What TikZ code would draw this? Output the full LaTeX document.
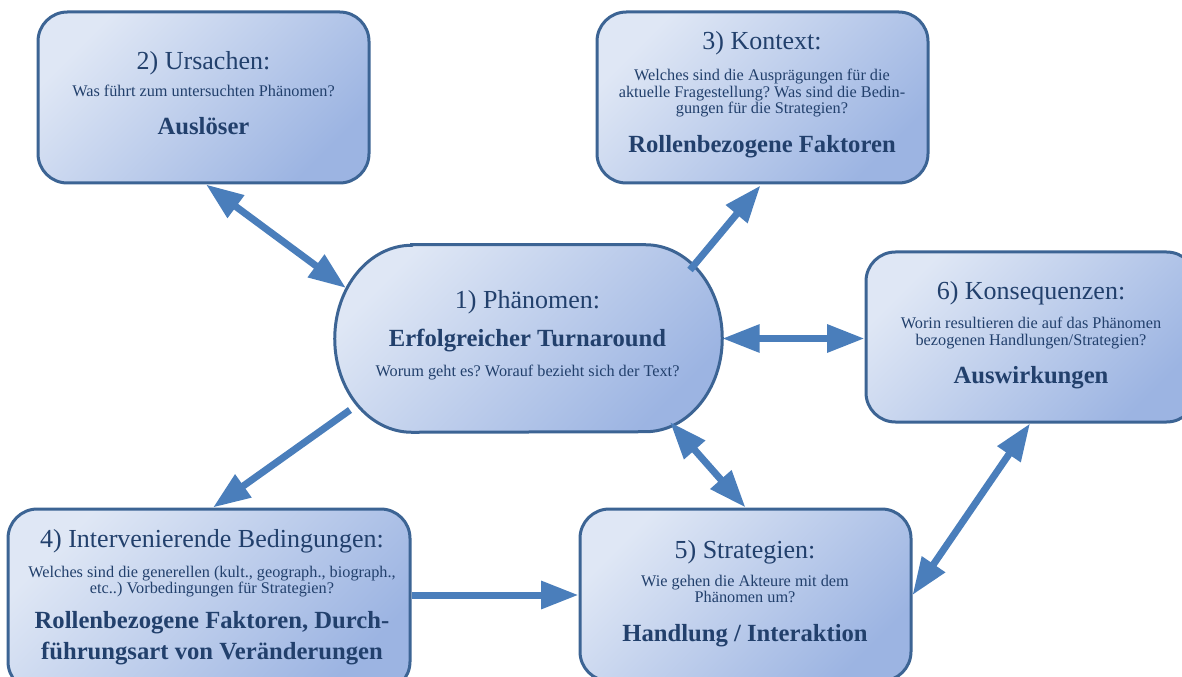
\documentclass[tikz,border=0pt]{standalone}
\usepackage{fontspec}
\setmainfont{Liberation Serif}
\usetikzlibrary{arrows.meta,calc}
\frenchspacing
\definecolor{edgeblue}{HTML}{3C6494}
\definecolor{boxlight}{HTML}{DFE7F5}
\definecolor{boxdark}{HTML}{9CB4E2}
\definecolor{arrowblue}{HTML}{4A7EBB}
\definecolor{inkblue}{HTML}{22406C}
\begin{document}
\begin{tikzpicture}[x=0.75pt,y=-0.75pt,
  boxfill/.style={draw=edgeblue, line width=2.25pt, top color=boxlight, bottom color=boxdark, shading angle=45},
  box/.style={boxfill, rounded corners=22pt, inner sep=0pt},
  anchorbox/.style={inner sep=0pt, draw=none},
  txt/.style={anchor=base, inner sep=0pt, text=inkblue},
  title/.style={txt, font=\fontsize{19.5}{22}\selectfont},
  quest/.style={txt, font=\fontsize{12.2}{13}\selectfont},
  key/.style={txt, font=\bfseries\fontsize{18.5}{22}\selectfont},
  link/.style={draw=arrowblue, line width=5.25pt},
  sgl/.style={link, -{Triangle[length=28pt,width=20pt]}},
  dbl/.style={link, {Triangle[length=28pt,width=20pt]}-{Triangle[length=28pt,width=20pt]}}
]
\useasboundingbox (0,0) rectangle (1182,677);
\clip (0,0) rectangle (1182,677);

% boxes
\node[box, minimum width=248.25pt, minimum height=128.25pt] (b2) at (203.5,97.5) {};
\node[box, minimum width=248.25pt, minimum height=128.25pt] (b3) at (762.5,97.5) {};
\node[box, minimum width=247.5pt, minimum height=127.5pt] (b6) at (1031,337) {};
\node[box, minimum width=301.5pt, minimum height=136.5pt] (b4) at (209,600) {};
\node[box, minimum width=248.25pt, minimum height=129pt] (b5) at (745.5,595) {};

% central phenomenon: stadium with elliptic ends
\node[anchorbox, minimum width=290.25pt, minimum height=140.25pt] (b1) at (528.5,338.5) {};
\path[boxfill] ($(b1.north west)+(77,0)$) -- ($(b1.north east)+(-77,0)$)
  arc[start angle=90, end angle=-90, x radius=57.75pt, y radius=70.125pt]
  -- ($(b1.south west)+(77,0)$)
  arc[start angle=270, end angle=90, x radius=57.75pt, y radius=70.125pt] -- cycle;

% points on the stadium border
\coordinate (p1nw) at ($(b1.center)+(-182.5,-50.5)$);
\coordinate (p1ne) at ($(b1.center)+(161.5,-68.5)$);
\coordinate (p1sw) at ($(b1.center)+(-178.5,71.5)$);
\coordinate (p1se) at ($(b1.center)+(141.5,83.5)$);

% connectors
\draw[dbl] ($(b2.south)+(2.5,0)$) -- (p1nw);
\draw[sgl] (p1ne) -- ($(b3.south)+(-2,1)$);
\draw[dbl] (b1.east) -- (b1.east -| b6.west);
\draw[sgl] (p1sw) -- ($(b4.north)+(4,0)$);
\draw[dbl] (p1se) -- (b5.north);
\draw[sgl] (b4.east |- b5.west) -- (b5.west);
\draw[dbl] (b5.east) -- ($(b6.south)+(-1,0)$);

% 1) Phaenomen
\node[title] (b1t) at (527.5,309) {1) Phänomen:};
\node[key] (b1k) at (527.5,347) {Erfolgreicher Turnaround};
\node[quest] (b1q) at (527.5,377) {Worum geht es? Worauf bezieht sich der Text?};

% 2) Ursachen
\node[title] (b2t) at (203.5,70) {2) Ursachen:};
\node[quest] (b2q) at (203.5,96.7) {Was führt zum untersuchten Phänomen?};
\node[key] (b2k) at (203.5,135) {Auslöser};

% 3) Kontext
\node[title] (b3t) at (762,50) {3) Kontext:};
\node[quest] (b3q1) at (762,80.5) {Welches sind die Ausprägungen für die};
\node[quest] (b3q2) at (762,97.3) {aktuelle Fragestellung? Was sind die Bedin-};
\node[quest] (b3q3) at (762,114) {gungen für die Strategien?};
\node[key] (b3k) at (762,153) {Rollenbezogene Faktoren};

% 6) Konsequenzen
\node[title] (b6t) at (1031,300) {6) Konsequenzen:};
\node[quest] (b6q1) at (1031,329) {Worin resultieren die auf das Phänomen};
\node[quest] (b6q2) at (1031,346) {bezogenen Handlungen/Strategien?};
\node[key] (b6k) at (1031,383) {Auswirkungen};

% 4) Intervenierende Bedingungen
\node[title] (b4t) at (212,547) {4) Intervenierende Bedingungen:};
\node[quest] (b4q1) at (212,577) {Welches sind die generellen (kult., geograph., biograph.,};
\node[quest] (b4q2) at (212,593.5) {etc..) Vorbedingungen für Strategien?};
\node[key] (b4k1) at (212,628) {Rollenbezogene Faktoren, Durch-};
\node[key] (b4k2) at (212,659) {führungsart von Veränderungen};

% 5) Strategien
\node[title] (b5t) at (745,558) {5) Strategien:};
\node[quest] (b5q1) at (745,586) {Wie gehen die Akteure mit dem};
\node[quest] (b5q2) at (745,602.5) {Phänomen um?};
\node[key] (b5k) at (745,641.5) {Handlung / Interaktion};
\end{tikzpicture}
\end{document}
